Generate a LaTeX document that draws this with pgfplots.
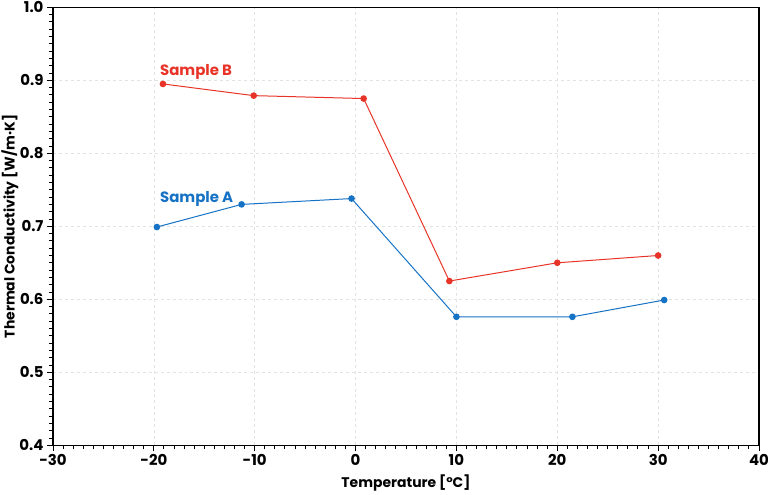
\documentclass[border=0pt]{standalone}
\usepackage{fontspec}
\setmainfont{Poppins}
\usepackage{pgfplots}
\pgfplotsset{compat=1.18}
\definecolor{cred}{RGB}{232,52,40}
\definecolor{cblue}{RGB}{22,114,196}
\begin{document}
\begin{tikzpicture}
\useasboundingbox (-53bp,-49.7bp) rectangle (715bp,445.3bp);
\begin{axis}[
  at={(0,0)}, anchor=south west,
  scale only axis, width=706bp, height=438bp,
  xmin=-30, xmax=40, ymin=0.4, ymax=1.0,
  xtick={-30,-20,...,40}, ytick={0.4,0.5,...,1.0},
  minor x tick num=9, minor y tick num=9,
  yticklabel style={/pgf/number format/.cd,fixed,fixed zerofill,precision=1},
  /pgf/number format/assume math mode=true,
  tick label style={font=\fontsize{15}{17}\selectfont\bfseries},
  label style={font=\fontsize{14}{16}\selectfont\bfseries},
  xlabel={Temperature [°C]}, ylabel={Thermal Conductivity [W/m·K]},
  xlabel style={at={(axis description cs:0.5,-0.087)}, anchor=center},
  ylabel style={at={(axis description cs:-0.061,0.5)}, anchor=center},
  axis line style={line width=1.2pt, black},
  tick style={black, line width=1pt},
  major tick length=6bp, minor tick length=4bp,
  tick align=outside, xtick pos=bottom, ytick pos=left,
  grid=major, major grid style={dash pattern=on 3pt off 3pt, gray!22, line width=0.6pt},
  clip=false,
]
\addplot[cred, line width=1pt, mark=*, mark size=2.8pt] coordinates {
  (-19.1,0.895) (-10.1,0.879) (0.8,0.875) (9.3,0.625) (20.0,0.650) (30.0,0.660)};
\addplot[cblue, line width=1pt, mark=*, mark size=2.8pt] coordinates {
  (-19.7,0.699) (-11.3,0.730) (-0.4,0.738) (10.0,0.576) (21.5,0.576) (30.6,0.599)};
\node[anchor=base west, inner sep=0pt, text=cred, font=\fontsize{15}{17}\selectfont\bfseries] at (axis cs:-19.4,0.906) {Sample B};
\node[anchor=base west, inner sep=0pt, text=cblue, font=\fontsize{15}{17}\selectfont\bfseries] at (axis cs:-19.4,0.733) {Sample A};
\end{axis}
\end{tikzpicture}
\end{document}
